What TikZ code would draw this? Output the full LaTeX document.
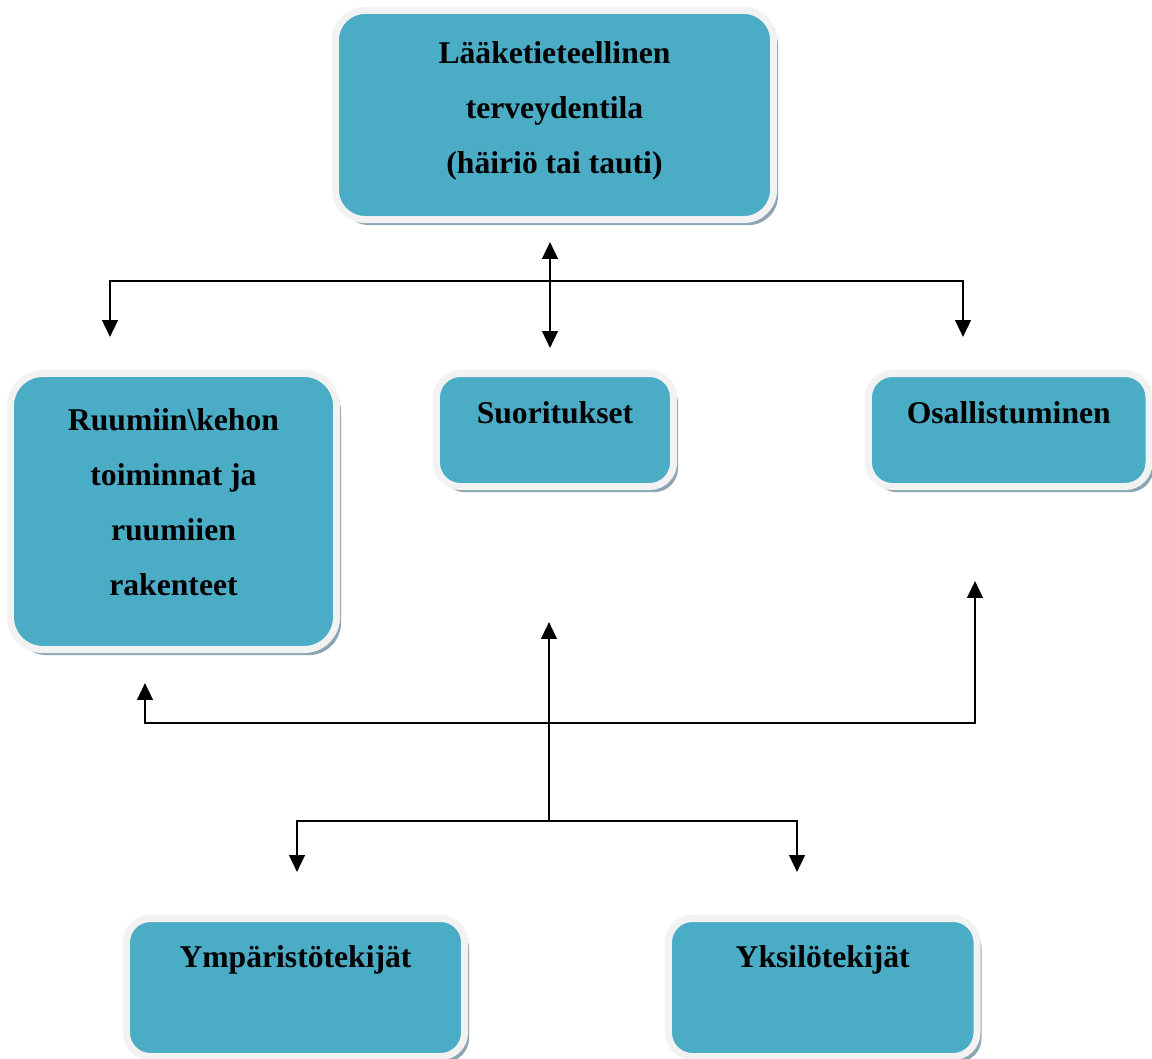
\documentclass[tikz,border=0pt]{standalone}
\usepackage{fontspec}
\setmainfont{Liberation Serif}
\usetikzlibrary{arrows.meta,shadows}
\definecolor{boxfill}{RGB}{75,172,198}
\definecolor{boxring}{RGB}{242,242,242}
\definecolor{boxshade}{RGB}{140,165,178}
\newcommand{\boxfont}{\fontsize{22.5}{39}\selectfont\bfseries}

\begin{document}
\begin{tikzpicture}[x=0.025cm,y=-0.025cm,
  >={Triangle[length=12pt,width=11pt]},
  icfbox/.style={draw=boxring, fill=boxfill, line width=5pt, rounded corners=17pt,
    inner sep=0pt, align=center, font=\boxfont, anchor=base,
    drop shadow={shadow xshift=3.2pt, shadow yshift=-4pt, fill=boxshade, opacity=1}},
  link/.style={line width=1.9pt, ->}]
        \useasboundingbox (0,0) rectangle (1152,1059);
        % boxes
        \node[icfbox, rounded corners=21pt, minimum width=10.95cm,
          text height=4.0625cm, text depth=1.1625cm] (health) at (554.5,173)
          {Lääketieteellinen\\terveydentila\\(häiriö tai tauti)};
        \node[icfbox, rounded corners=23pt, minimum width=8.15cm,
          text height=5.5375cm, text depth=1.3625cm] (body) at (173.5,595)
          {Ruumiin\textbackslash kehon\\toiminnat ja\\ruumiien\\rakenteet};
        \node[icfbox, minimum width=5.925cm,
          text height=1.2375cm, text depth=1.5875cm] (activ) at (555,423) {Suoritukset};
        \node[icfbox, minimum width=7.0125cm,
          text height=1.2375cm, text depth=1.5875cm] (partic) at (1008.75,423) {Osallistuminen};
        \node[icfbox, minimum width=8.45cm,
          text height=1.2125cm, text depth=2.2375cm] (envir) at (295.5,967) {Ympäristötekijät};
        \node[icfbox, minimum width=7.7125cm,
          text height=1.2125cm, text depth=2.2375cm] (person) at (822.75,967) {Yksilötekijät};
        % arrow ends
        \coordinate (up-top) at (550,242);
        \coordinate (up-bot) at (550,348);
        \coordinate (up-hub) at (550,281);
        \coordinate (up-left) at (110,337);
        \coordinate (up-right) at (963,337);
        \coordinate (lo-hub) at (549,821);
        \coordinate (lo-mid) at (549,723);
        \coordinate (lo-activ) at (549,622);
        \coordinate (lo-body) at (145,683);
        \coordinate (lo-partic) at (975,581);
        \coordinate (lo-envir) at (297,872);
        \coordinate (lo-person) at (797,872);
        % connectors
        \draw[link, <->] (up-top) -- (up-bot);
        \draw[link] (up-hub) -| (up-left);
        \draw[link] (up-hub) -| (up-right);
        \draw[link] (lo-hub) -- (lo-activ);
        \draw[link] (lo-mid) -| (lo-body);
        \draw[link] (lo-mid) -| (lo-partic);
        \draw[link] (lo-hub) -| (lo-envir);
        \draw[link] (lo-hub) -| (lo-person);
      \end{tikzpicture}
\end{document}
